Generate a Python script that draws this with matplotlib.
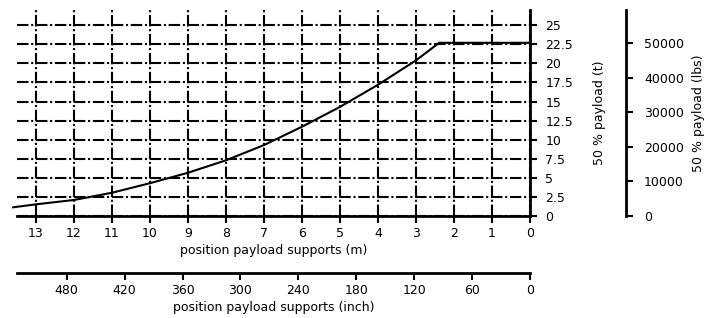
import numpy as np
import matplotlib
matplotlib.use("Agg")
import matplotlib.pyplot as plt

plt.rcParams['font.family'] = ['DejaVu Sans']
plt.rcParams['font.size'] = 9

# data: position (m) vs 50 % payload (t)
pos_m = [13.6, 13, 12, 11, 10, 9, 8, 7, 6, 5, 4, 3, 2.39, 0]
payload_t = [1.14, 1.53, 2.1, 3.05, 4.3, 5.67, 7.3, 9.3, 11.7, 14.3, 17.2, 20.4, 22.7, 22.7]

m_ticks = list(range(13, -1, -1))
t_ticks = [0, 2.5, 5, 7.5, 10, 12.5, 15, 17.5, 20, 22.5, 25]
t_labels = ["0", "2.5", "5", "7.5", "10", "12.5", "15", "17.5", "20", "22.5", "25"]
lbs_ticks = [0, 10000, 20000, 30000, 40000, 50000]
inch_ticks = [480, 420, 360, 300, 240, 180, 120, 60, 0]

M_TO_INCH = 39.37
T_TO_LBS = 2204.62
XMAX, YMAX = 13.5, 27.0

fig = plt.figure(figsize=(7.09, 3.18), dpi=100)
ax = fig.add_axes([17 / 709, 1 - 216 / 318, 513 / 709, 206 / 318])

gstyle = dict(color="black", lw=1.5, linestyle=(0, (5.5, 1.3, 1.0, 1.3)),
              dash_capstyle="butt")
ax.grid(True, **gstyle)
ax.set_axisbelow(True)

ax.plot(pos_m, payload_t, color="black", lw=1.5, clip_on=False, zorder=5)

ax.set_xlim(XMAX, 0)
ax.set_ylim(0, YMAX)
ax.set_xticks(m_ticks)
ax.set_yticks(t_ticks)
ax.set_yticklabels(t_labels)

# second y axis in lbs
ax2 = ax.twinx()
ax2.set_ylim(0, YMAX * T_TO_LBS)
ax2.set_yticks(lbs_ticks)
ax2.spines["right"].set_position(("outward", 69))
ax2.spines["right"].set_linewidth(2)
for s in ["top", "left", "bottom"]:
    ax2.spines[s].set_visible(False)
ax2.tick_params(axis="y", width=1.5, length=5, pad=8)
ax2.set_ylabel("50 % payload (lbs)", labelpad=6)

# second x axis in inch
ax3 = ax.twiny()
ax3.set_xlim(XMAX * M_TO_INCH, 0)
ax3.set_xticks(inch_ticks)
ax3.xaxis.set_ticks_position("bottom")
ax3.xaxis.set_label_position("bottom")
ax3.spines["bottom"].set_position(("outward", 41))
ax3.spines["bottom"].set_linewidth(2)
for s in ["top", "left", "right"]:
    ax3.spines[s].set_visible(False)
ax3.tick_params(axis="x", width=1.5, length=5, pad=3)
ax3.set_xlabel("position payload supports (inch)", labelpad=3)

# main axis styling (after twins, which reset tick sides)
ax.yaxis.tick_right()
ax.yaxis.set_label_position("right")
for s in ["top", "left"]:
    ax.spines[s].set_visible(False)
for s in ["bottom", "right"]:
    ax.spines[s].set_linewidth(2)
ax.tick_params(axis="both", width=1.5, length=5, pad=3)
ax.tick_params(axis="y", pad=6)
ax.set_xlabel("position payload supports (m)", labelpad=3)
ax.set_ylabel("50 % payload (t)", labelpad=14)

fig.savefig("out.png", dpi=100)
